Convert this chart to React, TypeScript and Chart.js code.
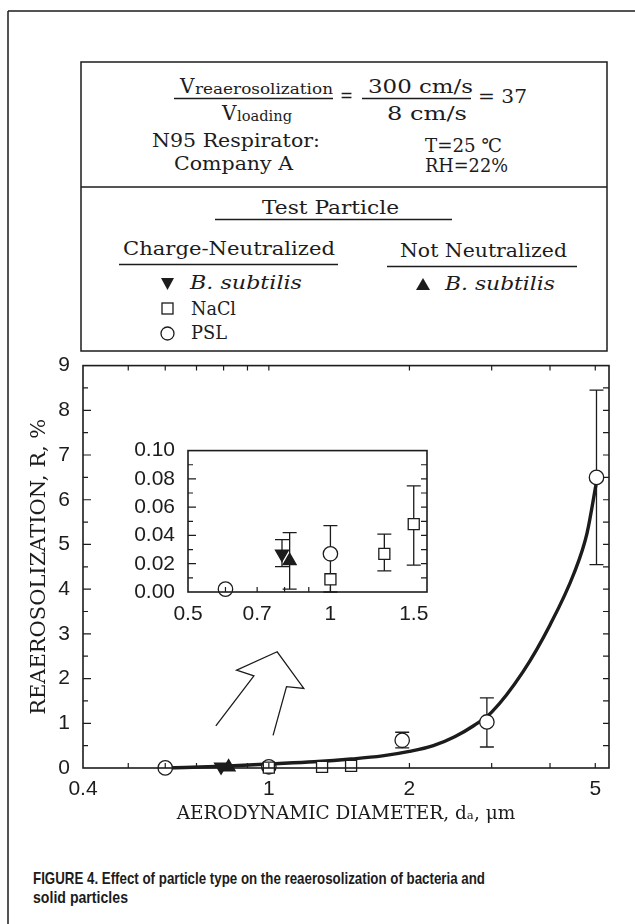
import React, { useEffect, useRef } from "react";
import { Chart, registerables } from "chart.js";
Chart.register(...registerables);

// ---------------- data ----------------
// PSL (open circles)
const pslX = [0.6, 1.0, 1.93, 2.93, 5.03];
const pslY = [0.002, 0.027, 0.62, 1.03, 6.5];
const pslLow = [null, 0.0, 0.45, 0.47, 4.55];
const pslHigh = [null, 0.047, 0.8, 1.57, 8.45];

// NaCl (open squares)
const naclX = [1.0, 1.3, 1.5];
const naclY = [0.009, 0.027, 0.048];
const naclLow = [null, 0.015, 0.019];
const naclHigh = [null, 0.041, 0.075];

// B. subtilis, charge-neutralized (filled down triangle)
const bsNeutX = [0.79];
const bsNeutY = [0.027];
const bsNeutLow = [0.018];
const bsNeutHigh = [0.037];

// B. subtilis, not neutralized (filled up triangle)
const bsNotX = [0.82];
const bsNotY = [0.022];
const bsNotLow = [0.002];
const bsNotHigh = [0.042];

// fitted curve
const fitX = [0.6, 0.8, 1.0, 1.25, 1.5, 1.75, 2.0, 2.25, 2.5, 2.75, 3.0, 3.5, 4.0, 4.5, 4.8, 5.03];
const fitY = [0.0, 0.04, 0.09, 0.14, 0.2, 0.27, 0.37, 0.5, 0.7, 0.95, 1.25, 2.15, 3.2, 4.35, 5.25, 6.4];

// hollow arrow annotation (outline, in data units of the main plot)
const arrowX = [0.77, 0.929, 0.853, 1.042, 1.188, 1.091, 1.021];
const arrowY = [0.94, 2.06, 2.19, 2.6, 1.78, 1.82, 0.73];

// ticks
const mainXLabels = [0.4, 1, 2, 5];
const mainXTicks = [0.5, 0.6, 0.7, 0.8, 0.9, 1, 2, 3, 4, 5];
const mainYMajor = [1, 2, 3, 4, 5, 6, 7, 8];
const mainYMinor = [0.5, 1.5, 2.5, 3.5, 4.5, 5.5, 6.5, 7.5, 8.5];
const insetXLabels = [0.5, 0.7, 1, 1.5];
const insetXTicks = [0.6, 0.7, 0.8, 0.9, 1.0];
const insetYMajor = [0.02, 0.04, 0.06, 0.08];
const insetYMinor = [0.01, 0.03, 0.05, 0.07, 0.09];

// ---------------- styling ----------------
const INK = "#1c1c1c";
const SERIF = "'DejaVu Serif', serif";
const SANS = "'Liberation Sans', Arial, sans-serif";

const pts = (xs: number[], ys: number[]) => xs.map((x, i) => ({ x, y: ys[i] }));

function markerDatasets() {
  const common = {
    showLine: false,
    borderColor: INK,
    pointBorderColor: INK,
    pointBorderWidth: 1.3,
    clip: false as any,
    order: 0,
  };
  return [
    {
      ...common,
      label: "B. subtilis (charge-neutralized)",
      data: pts(bsNeutX, bsNeutY),
      errLow: bsNeutLow,
      errHigh: bsNeutHigh,
      pointStyle: "triangle",
      pointRotation: 180,
      pointRadius: 7.5,
      backgroundColor: INK,
      pointBackgroundColor: INK,
    },
    {
      ...common,
      label: "B. subtilis (not neutralized)",
      data: pts(bsNotX, bsNotY),
      errLow: bsNotLow,
      errHigh: bsNotHigh,
      pointStyle: "triangle",
      pointRotation: 0,
      pointRadius: 7.5,
      backgroundColor: INK,
      pointBackgroundColor: INK,
    },
    {
      ...common,
      label: "NaCl",
      data: pts(naclX, naclY),
      errLow: naclLow,
      errHigh: naclHigh,
      pointStyle: "rect",
      pointRadius: 7.8,
      backgroundColor: "#fff",
      pointBackgroundColor: "#fff",
    },
    {
      ...common,
      label: "PSL",
      data: pts(pslX, pslY),
      errLow: pslLow,
      errHigh: pslHigh,
      pointStyle: "circle",
      pointRadius: 7.2,
      backgroundColor: "#fff",
      pointBackgroundColor: "#fff",
    },
  ];
}

const errorBarPlugin = {
  id: "errorBars",
  beforeDatasetsDraw(chart: any, _a: any, opts: any) {
    const { ctx } = chart;
    const xs = chart.scales.x;
    const ys = chart.scales.y;
    ctx.save();
    ctx.strokeStyle = INK;
    ctx.lineWidth = opts.lineWidth;
    chart.data.datasets.forEach((ds: any) => {
      if (!ds.errLow) return;
      ds.data.forEach((pt: any, i: number) => {
        const lo = ds.errLow[i];
        const hi = ds.errHigh[i];
        if (lo == null || hi == null) return;
        const px = xs.getPixelForValue(pt.x);
        const pLo = ys.getPixelForValue(lo);
        const pHi = ys.getPixelForValue(hi);
        if (pLo - pHi < opts.minSpan) return;
        ctx.beginPath();
        ctx.moveTo(px, pLo);
        ctx.lineTo(px, pHi);
        ctx.moveTo(px - opts.cap, pHi);
        ctx.lineTo(px + opts.cap, pHi);
        ctx.moveTo(px - opts.cap, pLo);
        ctx.lineTo(px + opts.cap, pLo);
        ctx.stroke();
      });
    });
    ctx.restore();
  },
};

const frameTicksPlugin = {
  id: "frameTicks",
  afterDatasetsDraw(chart: any, _a: any, opts: any) {
    const { ctx, chartArea: a } = chart;
    const xs = chart.scales.x;
    const ys = chart.scales.y;
    ctx.save();
    ctx.strokeStyle = INK;
    ctx.lineWidth = 1.2;
    ctx.beginPath();
    for (const v of opts.xTicks) {
      const p = xs.getPixelForValue(v);
      ctx.moveTo(p, a.bottom);
      ctx.lineTo(p, a.bottom - opts.xLen);
      if (opts.xTop) {
        ctx.moveTo(p, a.top);
        ctx.lineTo(p, a.top + opts.xLen);
      }
    }
    for (const v of opts.yMajor) {
      const p = ys.getPixelForValue(v);
      ctx.moveTo(a.left, p);
      ctx.lineTo(a.left + opts.yMajorLen, p);
    }
    for (const v of opts.yMinor) {
      const p = ys.getPixelForValue(v);
      ctx.moveTo(a.left, p);
      ctx.lineTo(a.left + opts.yMinorLen, p);
    }
    for (const v of opts.yRight) {
      const p = ys.getPixelForValue(v);
      ctx.moveTo(a.right, p);
      ctx.lineTo(a.right - opts.yRightLen, p);
    }
    ctx.stroke();
    ctx.lineWidth = 1.6;
    ctx.strokeRect(a.left, a.top, a.right - a.left, a.bottom - a.top);
    ctx.restore();
  },
};

const numFont = { family: SANS, size: 21 };

function mainConfig(): any {
  return {
    type: "scatter",
    data: {
      datasets: [
        {
          label: "Fit",
          type: "line",
          data: pts(fitX, fitY),
          borderColor: INK,
          borderWidth: 3.4,
          pointRadius: 0,
          cubicInterpolationMode: "monotone",
          fill: false,
          clip: false,
          order: 10,
        },
        {
          label: "Arrow",
          type: "line",
          data: pts(arrowX, arrowY),
          borderColor: INK,
          borderWidth: 1.3,
          pointRadius: 0,
          tension: 0,
          fill: false,
          order: 10,
        },
        ...markerDatasets(),
      ],
    },
    options: {
      responsive: false,
      animation: false,
      layout: { padding: { left: 0, right: 26, top: 22, bottom: 0 } },
      plugins: {
        legend: { display: false },
        tooltip: { enabled: false },
        errorBars: { lineWidth: 1.3, cap: 7, minSpan: 6 },
        frameTicks: {
          xTicks: mainXTicks,
          xLen: 5,
          xTop: true,
          yMajor: mainYMajor,
          yMinor: mainYMinor,
          yMajorLen: 8,
          yMinorLen: 5,
          yRight: [...mainYMinor, ...mainYMajor],
          yRightLen: 6,
        },
      },
      scales: {
        x: {
          type: "logarithmic",
          min: 0.4,
          max: 5.35,
          afterBuildTicks: (s: any) => {
            s.ticks = mainXLabels.map((v) => ({ value: v }));
          },
          afterFit: (s: any) => {
            s.height = 62;
          },
          grid: { display: false, drawTicks: false },
          border: { display: false },
          ticks: {
            autoSkip: false,
            maxRotation: 0,
            padding: 9,
            font: numFont,
            color: INK,
            callback: (v: any) => String(v),
          },
          title: {
            display: true,
            text: "AERODYNAMIC DIAMETER, d\u2090, \u03bcm",
            font: { family: SERIF, size: 18.5, lineHeight: 1.2 },
            color: INK,
            padding: { top: 0, bottom: 5 },
          },
        },
        y: {
          min: 0,
          max: 9,
          afterFit: (s: any) => {
            s.width = 83;
          },
          grid: { display: false, drawTicks: false },
          border: { display: false },
          ticks: { stepSize: 1, padding: 13, font: numFont, color: INK },
          title: {
            display: true,
            text: "REAEROSOLIZATION, R, %",
            font: { family: SERIF, size: 21, lineHeight: 1.2 },
            color: INK,
            padding: { top: 27, bottom: 0 },
          },
        },
      },
    },
    plugins: [errorBarPlugin, frameTicksPlugin],
  };
}

function insetConfig(): any {
  return {
    type: "scatter",
    data: { datasets: markerDatasets() },
    options: {
      responsive: false,
      animation: false,
      layout: { padding: { left: 0, right: 13, top: 16, bottom: 0 } },
      plugins: {
        legend: { display: false },
        tooltip: { enabled: false },
        errorBars: { lineWidth: 1.3, cap: 7, minSpan: 1 },
        frameTicks: {
          xTicks: insetXTicks,
          xLen: 5,
          xTop: false,
          yMajor: insetYMajor,
          yMinor: insetYMinor,
          yMajorLen: 8,
          yMinorLen: 5,
          yRight: [...insetYMinor, ...insetYMajor],
          yRightLen: 6,
        },
      },
      scales: {
        x: {
          type: "logarithmic",
          min: 0.5,
          max: 1.6,
          afterBuildTicks: (s: any) => {
            s.ticks = insetXLabels.map((v) => ({ value: v }));
          },
          afterFit: (s: any) => {
            s.height = 33;
          },
          grid: { display: false, drawTicks: false },
          border: { display: false },
          ticks: {
            autoSkip: false,
            maxRotation: 0,
            padding: 10,
            font: numFont,
            color: INK,
            callback: (v: any) => String(v),
          },
        },
        y: {
          min: 0,
          max: 0.1,
          afterFit: (s: any) => {
            s.width = 78;
          },
          grid: { display: false, drawTicks: false },
          border: { display: false },
          ticks: {
            stepSize: 0.02,
            padding: 13,
            font: numFont,
            color: INK,
            callback: (v: any) => Number(v).toFixed(2),
          },
        },
      },
    },
    plugins: [errorBarPlugin, frameTicksPlugin],
  };
}

function T(props: any) {
  const { x, y, w, size = 19, italic, children, family = SERIF, weight } = props;
  return (
    <text
      x={x}
      y={y}
      textLength={w}
      lengthAdjust="spacingAndGlyphs"
      fontFamily={family}
      fontSize={size}
      fontStyle={italic ? "italic" : "normal"}
      fontWeight={weight || "normal"}
      fill={INK}
    >
      {children}
    </text>
  );
}

function L(props: any) {
  const { x1, x2, y } = props;
  return <line x1={x1} x2={x2} y1={y} y2={y} stroke={INK} strokeWidth={1.4} />;
}

const CAPTION_FONT = "'Liberation Sans Narrow', 'Liberation Sans', Arial, sans-serif";

export default function App() {
  const mainRef = useRef<HTMLCanvasElement>(null);
  const insetRef = useRef<HTMLCanvasElement>(null);

  useEffect(() => {
    const main = new Chart(mainRef.current as HTMLCanvasElement, mainConfig());
    const inset = new Chart(insetRef.current as HTMLCanvasElement, insetConfig());
    return () => {
      main.destroy();
      inset.destroy();
    };
  }, []);

  return (
    <div
      style={{
        position: "absolute",
        left: 0,
        top: 0,
        width: 635,
        height: 924,
        overflow: "hidden",
        background: "#fff",
      }}
    >
      <svg width={635} height={924} style={{ position: "absolute", left: 0, top: 0 }}>
        <path d="M8 11 H 640 M8 11 V 930" stroke={INK} strokeWidth={1.5} fill="none" />
        <rect x={81} y={62} width={526} height={289} fill="none" stroke={INK} strokeWidth={1.5} />
        <line x1={81} x2={607} y1={187} y2={187} stroke={INK} strokeWidth={1.4} />

        {/* velocity ratio */}
        <T x={180} y={93} size={20}>V</T>
        <T x={195} y={94} w={138} size={14}>reaerosolization</T>
        <L x1={174} x2={333} y={98.5} />
        <T x={222} y={120} size={20}>V</T>
        <T x={237} y={121} w={55} size={14}>loading</T>
        <T x={340} y={101.5} w={13}>=</T>
        <T x={368} y={92.5} w={105}>300 cm/s</T>
        <L x1={362} x2={471} y={98.5} />
        <T x={387} y={120} w={80}>8 cm/s</T>
        <T x={478} y={103} w={49}>= 37</T>

        <T x={152} y={147} w={168}>N95 Respirator:</T>
        <T x={174} y={170} w={119}>Company A</T>
        <T x={425} y={152} w={77}>T=25 ℃</T>
        <T x={425} y={172} w={83}>RH=22%</T>

        {/* legend */}
        <T x={262} y={214} w={137}>Test Particle</T>
        <L x1={215} x2={452} y={219.5} />
        <T x={123} y={255} w={212}>Charge-Neutralized</T>
        <L x1={119} x2={338} y={264.5} />
        <T x={400} y={257} w={167}>Not Neutralized</T>
        <L x1={387} x2={577} y={266.5} />

        <polygon points="161,278 174,278 167.5,290" fill={INK} />
        <T x={190} y={289} w={112} italic>B. subtilis</T>
        <rect x={162} y={303} width={11} height={11} fill="none" stroke={INK} strokeWidth={1.3} />
        <T x={191} y={315} w={45}>NaCl</T>
        <circle cx={167.5} cy={333.5} r={6.5} fill="none" stroke={INK} strokeWidth={1.3} />
        <T x={191} y={339} w={36}>PSL</T>
        <polygon points="416,290 430,290 423,278" fill={INK} />
        <T x={445} y={290} w={110} italic>B. subtilis</T>

        {/* caption */}
        <T x={33} y={884} w={452} size={17} weight="bold" family={CAPTION_FONT}>
          FIGURE 4. Effect of particle type on the reaerosolization of bacteria and
        </T>
        <T x={33} y={903} w={95} size={17} weight="bold" family={CAPTION_FONT}>
          solid particles
        </T>
      </svg>

      <canvas
        ref={mainRef}
        width={635}
        height={490}
        style={{ position: "absolute", left: 0, top: 340, width: 635, height: 490 }}
      />
      <canvas
        ref={insetRef}
        width={330}
        height={200}
        style={{ position: "absolute", left: 110, top: 425, width: 330, height: 200 }}
      />
    </div>
  );
}
